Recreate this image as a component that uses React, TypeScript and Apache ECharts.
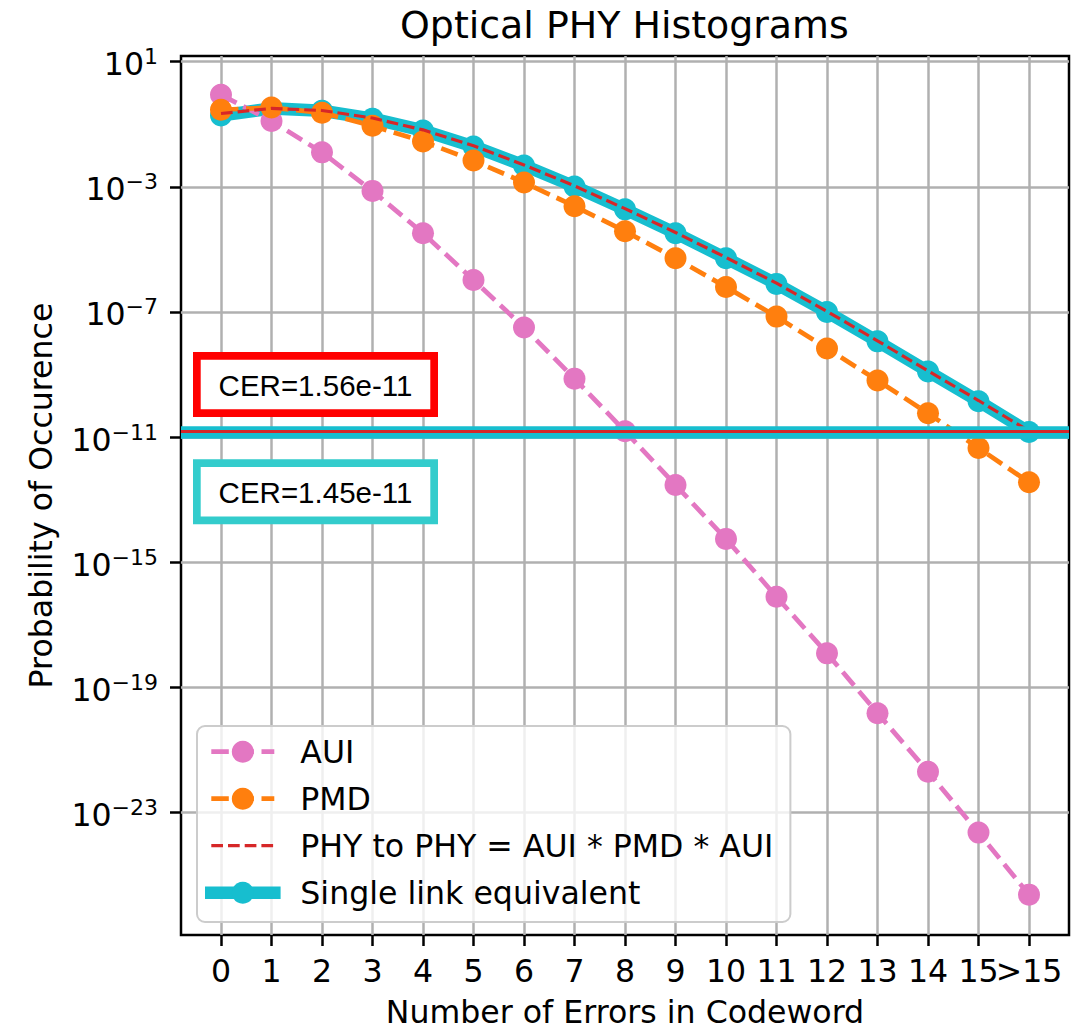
import React, { useEffect, useRef } from 'react';
import * as echarts from 'echarts';

// ---- Data (probabilities) ----
const categories = ['0', '1', '2', '3', '4', '5', '6', '7', '8', '9', '10', '11', '12', '13', '14', '15', '>15'];
const auiProb = [0.87, 0.126, 1.26e-2, 7.4e-4, 3.3e-5, 1.05e-6, 3.2e-8, 7.4e-10, 1.55e-11, 2.95e-13, 5.6e-15, 7.9e-17, 1.23e-18, 1.51e-20, 2.04e-22, 2.3e-24, 2.4e-26];
const pmdProb = [0.29, 0.34, 0.234, 8.9e-2, 2.8e-2, 6.9e-3, 1.38e-3, 2.4e-4, 3.8e-5, 5.2e-6, 6.3e-7, 7.1e-8, 6.8e-9, 6.5e-10, 5.8e-11, 4.5e-12, 3.6e-13];
const phyProb = [0.22, 0.32, 0.275, 0.158, 6.6e-2, 2.05e-2, 5.0e-3, 1.07e-3, 2.0e-4, 3.47e-5, 5.5e-6, 8.3e-7, 1.05e-7, 1.2e-8, 1.32e-9, 1.48e-10, 1.56e-11];
const singleProb = [0.19, 0.32, 0.27, 0.15, 6.3e-2, 1.95e-2, 4.8e-3, 1.02e-3, 1.9e-4, 3.3e-5, 5.2e-6, 7.9e-7, 1.0e-7, 1.15e-8, 1.26e-9, 1.41e-10, 1.45e-11];
const yTickExponents = [1, -3, -7, -11, -15, -19, -23];
const cerPhy = 1.56e-11;
const cerSingle = 1.45e-11;
const seriesNames = ['AUI', 'PMD', 'PHY to PHY = AUI * PMD * AUI', 'Single link equivalent'];

const FONT = 'DejaVu Sans';
const xIndex = categories.map((_, i) => i);
const xEven = xIndex.filter((i) => i % 2 === 0);
const xOdd = xIndex.filter((i) => i % 2 === 1);
const toLog = (arr: number[]) => arr.map((v, i) => [i, Math.log10(v)]);
const expText = (v: number) => {
  const e = Math.round(v);
  return e < 0 ? '\u2212' + Math.abs(e) : String(e);
};

const COLORS = {
  aui: '#e377c2',
  pmd: '#ff7f0e',
  phy: '#d62728',
  single: '#17becf',
};

export default function App() {
  const ref = useRef<HTMLDivElement>(null);
  useEffect(() => {
    if (!ref.current) return;
    const chart = echarts.init(ref.current, undefined, { renderer: 'svg' });
    const gridLine = { show: true, lineStyle: { color: '#b0b0b0', width: 2.5 } };
    const tickStyle = { color: '#000', width: 2.5 };
    const xLabelBase = {
      formatter: (v: number) => categories[Math.round(v)] ?? '',
      margin: 20,
      hideOverlap: false,
      fontFamily: FONT,
      fontSize: 31.6,
      color: '#000',
      lineHeight: 32,
    };
    const option: any = {
      animation: false,
      backgroundColor: '#ffffff',
      title: {
        text: 'Optical PHY Histograms',
        left: 400,
        top: 6,
        padding: 0,
        textStyle: { fontFamily: FONT, fontSize: 37.9, fontWeight: 'normal', color: '#000', lineHeight: 38 },
      },
      grid: {
        left: 181, right: 13, top: 56, bottom: 94,
        show: true, borderColor: '#000', borderWidth: 2.5, backgroundColor: 'transparent',
      },
      legend: {
        orient: 'vertical',
        left: 197,
        top: 726,
        padding: [8.7, 17, 12.3, 8],
        itemWidth: 63,
        itemHeight: 27.5,
        itemGap: 13,
        selectedMode: false,
        backgroundColor: 'rgba(255,255,255,0.8)',
        borderColor: '#cccccc',
        borderWidth: 2,
        borderRadius: 8,
        textStyle: { fontFamily: FONT, fontSize: 31.6, color: '#000', lineHeight: 34, padding: [0, 0, 0, 21] },
        lineStyle: { width: 'inherit' },
        data: [
          { name: seriesNames[0] },
          { name: seriesNames[1] },
          { name: seriesNames[2], itemStyle: { opacity: 0 } },
          { name: seriesNames[3] },
        ],
        z: 8,
      },
      xAxis: [
        {
          type: 'value',
          position: 'bottom',
          min: -0.792,
          max: 16.792,
          name: 'Number of Errors in Codeword',
          nameLocation: 'middle',
          nameGap: 61,
          nameTextStyle: { fontFamily: FONT, fontSize: 31.6, color: '#000', lineHeight: 32 },
          axisLine: { show: false, onZero: false },
          axisTick: { show: true, customValues: xIndex, length: 11, lineStyle: tickStyle },
          axisLabel: { ...xLabelBase, customValues: xEven },
          splitLine: gridLine,
        },
        {
          type: 'value',
          position: 'bottom',
          min: -0.792,
          max: 16.792,
          axisLine: { show: false, onZero: false },
          axisTick: { show: false },
          axisLabel: { ...xLabelBase, customValues: xOdd },
          splitLine: { show: false },
        },
      ],
      yAxis: {
        type: 'value',
        min: -26.91,
        max: 1.18,
        name: 'Probability of Occurence',
        nameLocation: 'middle',
        nameGap: 124,
        nameTextStyle: { fontFamily: FONT, fontSize: 31.6, color: '#000', lineHeight: 32 },
        axisLine: { show: false, onZero: false },
        axisTick: { show: true, customValues: yTickExponents, length: 11, lineStyle: tickStyle },
        axisLabel: {
          customValues: yTickExponents,
          margin: 23,
          hideOverlap: false,
          formatter: (v: number) => `{b|10}{s|${expText(v)}}`,
          rich: {
            b: { fontFamily: FONT, fontSize: 31.6, lineHeight: 32, color: '#000', padding: [5, 0, 0, 0] },
            s: { fontFamily: FONT, fontSize: 22, lineHeight: 26.6, color: '#000', verticalAlign: 'top' },
          },
        },
        splitLine: gridLine,
      },
      series: [
        {
          name: seriesNames[3],
          type: 'line',
          xAxisIndex: 0,
          z: 1,
          data: toLog(singleProb),
          symbol: 'circle',
          symbolSize: 22,
          itemStyle: { color: COLORS.single },
          lineStyle: { color: COLORS.single, width: 12.6, cap: 'square', join: 'round' },
          emphasis: { disabled: true },
          markLine: {
            silent: true,
            z: 5,
            symbol: ['none', 'none'],
            label: { show: false },
            emphasis: { disabled: true },
            lineStyle: { color: COLORS.single, width: 12.6, type: 'solid' },
            data: [{ yAxis: Math.log10(cerSingle) }],
          },
        },
        {
          name: seriesNames[0],
          type: 'line',
          xAxisIndex: 0,
          z: 2,
          data: toLog(auiProb),
          symbol: 'circle',
          symbolSize: 22,
          itemStyle: { color: COLORS.aui },
          lineStyle: { color: COLORS.aui, width: 4.74, type: [17.5, 7.6] },
          emphasis: { disabled: true },
        },
        {
          name: seriesNames[1],
          type: 'line',
          xAxisIndex: 0,
          z: 3,
          data: toLog(pmdProb),
          symbol: 'circle',
          symbolSize: 22,
          itemStyle: { color: COLORS.pmd },
          lineStyle: { color: COLORS.pmd, width: 4.74, type: [17.5, 7.6] },
          emphasis: { disabled: true },
        },
        {
          name: seriesNames[2],
          type: 'line',
          xAxisIndex: 0,
          z: 4,
          data: toLog(phyProb),
          symbol: 'none',
          showSymbol: false,
          itemStyle: { color: COLORS.phy },
          lineStyle: { color: COLORS.phy, width: 3.16, type: [11.7, 5] },
          emphasis: { disabled: true },
          markLine: {
            silent: true,
            z: 6,
            symbol: ['none', 'none'],
            label: { show: false },
            emphasis: { disabled: true },
            lineStyle: { color: COLORS.phy, width: 3.16, type: 'solid' },
            data: [{ yAxis: Math.log10(cerPhy) }],
          },
        },
      ],
      graphic: [
        {
          type: 'rect', z: 20,
          shape: { x: 196.85, y: 355.85, width: 237.3, height: 57.3 },
          style: { fill: '#ffffff', stroke: '#ff0000', lineWidth: 7.7 },
        },
        {
          type: 'text', z: 21, x: 315.5, y: 385,
          style: { text: 'CER=1.56e-11', fontFamily: 'Liberation Sans', fontSize: 29.5, fill: '#000', textAlign: 'center', textVerticalAlign: 'middle' },
        },
        {
          type: 'rect', z: 20,
          shape: { x: 196.85, y: 463.15, width: 237.3, height: 57.3 },
          style: { fill: '#ffffff', stroke: '#33cccc', lineWidth: 7.7 },
        },
        {
          type: 'text', z: 21, x: 315.5, y: 492,
          style: { text: 'CER=1.45e-11', fontFamily: 'Liberation Sans', fontSize: 29.5, fill: '#000', textAlign: 'center', textVerticalAlign: 'middle' },
        },
      ],
    };
    chart.setOption(option);
    return () => chart.dispose();
  }, []);
  return (
    <div
      ref={ref}
      style={{ position: 'fixed', left: 0, top: 0, width: 1082, height: 1033, background: '#fff' }}
    />
  );
}
